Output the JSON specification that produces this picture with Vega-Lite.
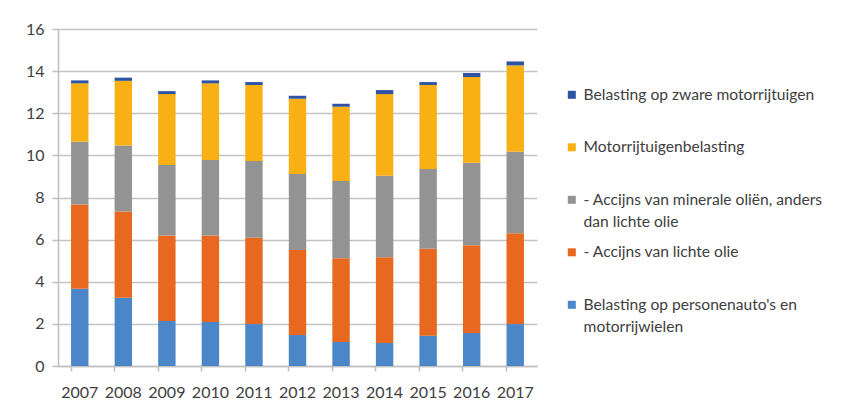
{
  "$schema": "https://vega.github.io/schema/vega-lite/v6.json",
  "autosize": "none",
  "width": 479,
  "height": 337,
  "padding": {"left": 58, "top": 29, "right": 306, "bottom": 40},
  "background": "white",
  "data": {
    "values": [
      {"year": "2007", "series": "Belasting op personenauto's en motorrijwielen", "value": 3.67},
      {"year": "2007", "series": "- Accijns van lichte olie", "value": 4.00},
      {"year": "2007", "series": "- Accijns van minerale oliën, anders dan lichte olie", "value": 2.98},
      {"year": "2007", "series": "Motorrijtuigenbelasting", "value": 2.77},
      {"year": "2007", "series": "Belasting op zware motorrijtuigen", "value": 0.14},
      {"year": "2008", "series": "Belasting op personenauto's en motorrijwielen", "value": 3.24},
      {"year": "2008", "series": "- Accijns van lichte olie", "value": 4.09},
      {"year": "2008", "series": "- Accijns van minerale oliën, anders dan lichte olie", "value": 3.14},
      {"year": "2008", "series": "Motorrijtuigenbelasting", "value": 3.07},
      {"year": "2008", "series": "Belasting op zware motorrijtuigen", "value": 0.15},
      {"year": "2009", "series": "Belasting op personenauto's en motorrijwielen", "value": 2.14},
      {"year": "2009", "series": "- Accijns van lichte olie", "value": 4.05},
      {"year": "2009", "series": "- Accijns van minerale oliën, anders dan lichte olie", "value": 3.35},
      {"year": "2009", "series": "Motorrijtuigenbelasting", "value": 3.37},
      {"year": "2009", "series": "Belasting op zware motorrijtuigen", "value": 0.14},
      {"year": "2010", "series": "Belasting op personenauto's en motorrijwielen", "value": 2.09},
      {"year": "2010", "series": "- Accijns van lichte olie", "value": 4.10},
      {"year": "2010", "series": "- Accijns van minerale oliën, anders dan lichte olie", "value": 3.59},
      {"year": "2010", "series": "Motorrijtuigenbelasting", "value": 3.64},
      {"year": "2010", "series": "Belasting op zware motorrijtuigen", "value": 0.14},
      {"year": "2011", "series": "Belasting op personenauto's en motorrijwielen", "value": 1.99},
      {"year": "2011", "series": "- Accijns van lichte olie", "value": 4.10},
      {"year": "2011", "series": "- Accijns van minerale oliën, anders dan lichte olie", "value": 3.64},
      {"year": "2011", "series": "Motorrijtuigenbelasting", "value": 3.61},
      {"year": "2011", "series": "Belasting op zware motorrijtuigen", "value": 0.14},
      {"year": "2012", "series": "Belasting op personenauto's en motorrijwielen", "value": 1.47},
      {"year": "2012", "series": "- Accijns van lichte olie", "value": 4.04},
      {"year": "2012", "series": "- Accijns van minerale oliën, anders dan lichte olie", "value": 3.60},
      {"year": "2012", "series": "Motorrijtuigenbelasting", "value": 3.58},
      {"year": "2012", "series": "Belasting op zware motorrijtuigen", "value": 0.14},
      {"year": "2013", "series": "Belasting op personenauto's en motorrijwielen", "value": 1.14},
      {"year": "2013", "series": "- Accijns van lichte olie", "value": 3.97},
      {"year": "2013", "series": "- Accijns van minerale oliën, anders dan lichte olie", "value": 3.67},
      {"year": "2013", "series": "Motorrijtuigenbelasting", "value": 3.53},
      {"year": "2013", "series": "Belasting op zware motorrijtuigen", "value": 0.14},
      {"year": "2014", "series": "Belasting op personenauto's en motorrijwielen", "value": 1.09},
      {"year": "2014", "series": "- Accijns van lichte olie", "value": 4.07},
      {"year": "2014", "series": "- Accijns van minerale oliën, anders dan lichte olie", "value": 3.87},
      {"year": "2014", "series": "Motorrijtuigenbelasting", "value": 3.88},
      {"year": "2014", "series": "Belasting op zware motorrijtuigen", "value": 0.19},
      {"year": "2015", "series": "Belasting op personenauto's en motorrijwielen", "value": 1.44},
      {"year": "2015", "series": "- Accijns van lichte olie", "value": 4.13},
      {"year": "2015", "series": "- Accijns van minerale oliën, anders dan lichte olie", "value": 3.78},
      {"year": "2015", "series": "Motorrijtuigenbelasting", "value": 3.99},
      {"year": "2015", "series": "Belasting op zware motorrijtuigen", "value": 0.14},
      {"year": "2016", "series": "Belasting op personenauto's en motorrijwielen", "value": 1.57},
      {"year": "2016", "series": "- Accijns van lichte olie", "value": 4.16},
      {"year": "2016", "series": "- Accijns van minerale oliën, anders dan lichte olie", "value": 3.92},
      {"year": "2016", "series": "Motorrijtuigenbelasting", "value": 4.07},
      {"year": "2016", "series": "Belasting op zware motorrijtuigen", "value": 0.19},
      {"year": "2017", "series": "Belasting op personenauto's en motorrijwielen", "value": 1.99},
      {"year": "2017", "series": "- Accijns van lichte olie", "value": 4.31},
      {"year": "2017", "series": "- Accijns van minerale oliën, anders dan lichte olie", "value": 3.87},
      {"year": "2017", "series": "Motorrijtuigenbelasting", "value": 4.10},
      {"year": "2017", "series": "Belasting op zware motorrijtuigen", "value": 0.19}
    ]
  },
  "transform": [
    {"calculate": "indexof([\"Belasting op personenauto's en motorrijwielen\", '- Accijns van lichte olie', '- Accijns van minerale oliën, anders dan lichte olie', 'Motorrijtuigenbelasting', 'Belasting op zware motorrijtuigen'], datum.series)", "as": "stackOrder"}
  ],
  "mark": {"type": "bar"},
  "encoding": {
    "x": {
      "field": "year",
      "type": "ordinal",
      "title": null,
      "scale": {"paddingInner": 0.6, "paddingOuter": 0.3},
      "axis": {
        "labelAngle": 0,
        "bandPosition": 0,
        "domainColor": "#bfbfbf",
        "domainWidth": 1.5,
        "tickColor": "#bfbfbf",
        "tickWidth": 1.5,
        "tickSize": 5,
        "labelPadding": 13,
        "labelFont": "Lato",
        "labelFontSize": 16,
        "labelColor": "#404040",
        "grid": false
      }
    },
    "y": {
      "field": "value",
      "type": "quantitative",
      "stack": "zero",
      "title": null,
      "scale": {"domain": [0, 16], "nice": false},
      "axis": {
        "values": [0, 2, 4, 6, 8, 10, 12, 14, 16],
        "domainColor": "#bfbfbf",
        "domainWidth": 1.5,
        "tickColor": "#bfbfbf",
        "tickWidth": 1.5,
        "tickSize": 6,
        "labelPadding": 8,
        "labelFont": "Lato",
        "labelFontSize": 16,
        "labelColor": "#404040",
        "grid": true,
        "gridColor": "#c4c4c4",
        "gridWidth": 1.5
      }
    },
    "order": {"field": "stackOrder", "type": "quantitative", "sort": "ascending"},
    "color": {
      "field": "series",
      "type": "nominal",
      "scale": {
        "domain": [
          "Belasting op zware motorrijtuigen",
          "Motorrijtuigenbelasting",
          "- Accijns van minerale oliën, anders dan lichte olie",
          "- Accijns van lichte olie",
          "Belasting op personenauto's en motorrijwielen"
        ],
        "range": ["#2e53a3", "#f9b015", "#939393", "#e8681f", "#4a86c8"]
      },
      "legend": {
        "title": null,
        "orient": "none",
        "legendX": 506,
        "legendY": 58,
        "labelExpr": "datum.label == '- Accijns van minerale oliën, anders dan lichte olie' ? ['- Accijns van minerale oliën, anders', 'dan lichte olie'] : datum.label == \"Belasting op personenauto's en motorrijwielen\" ? [\"Belasting op personenauto's en\", 'motorrijwielen'] : [datum.label, ' ']",
        "symbolType": "square",
        "symbolSize": 64,
        "symbolStrokeWidth": 0,
        "labelOffset": 4,
        "labelFont": "Lato",
        "labelFontSize": 15.6,
        "labelColor": "#404040",
        "labelLimit": 400,
        "rowPadding": 13.5,
        "encode": {"labels": {"update": {"lineHeight": {"value": 22}}}}
      }
    }
  },
  "config": {
    "view": {"stroke": null}
  }
}
